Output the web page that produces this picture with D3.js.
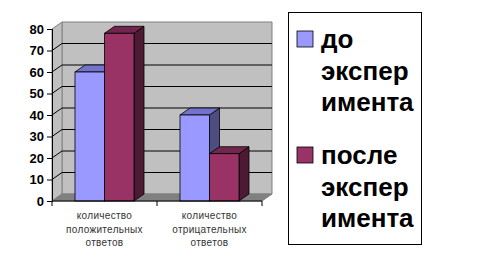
<!DOCTYPE html>
<html>
<head>
<meta charset="utf-8">
<style>
    body { margin: 0; background: #fff; }
    svg { display: block; font-family: 'Liberation Sans', Arial, sans-serif; }
</style>
</head>
<body>
<div id="chart"></div>
<script src="https://cdn.jsdelivr.net/npm/d3@7"></script>
<script>
    // data
    var categories = [
        ['количество', 'положительных', 'ответов'],
        ['количество', 'отрицательных', 'ответов']
    ];
    var series = ['до эксперимента', 'после эксперимента'];
    var legend_lines = [['до', 'экспер', 'имента'], ['после', 'экспер', 'имента']];
    var values_before = [60, 40];
    var values_after = [78, 22];
    var y_ticks = [0, 10, 20, 30, 40, 50, 60, 70, 80];

    var width = 480, height = 261;

    var fronts = ['#9999ff', '#993366'],
        tops = ['#7373cc', '#73264d'],
        sides = ['#4d4d80', '#4d1a33'];

    // 3d offset for walls and bars
    var dx = 10, dy = -7;

    var x_scale = d3.scaleBand()
        .domain(d3.range(categories.length))
        .range([52, 262])
        .padding(0);

    var y_scale = d3.scaleLinear()
        .domain([0, 80])
        .range([201, 29]);

    var bar_width = 29.5;

    var svg = d3.select('#chart').append('svg')
        .attr('width', width)
        .attr('height', height);

    var x0 = x_scale.range()[0], x1 = x_scale.range()[1],
        y0 = y_scale(0), yt = y_scale(80);

    function pts(a){ return a.map(function(p){ return p.join(','); }).join(' '); }

    // walls
    svg.append('polygon')
        .attr('points', pts([[x0 + dx, yt + dy], [x1 + dx, yt + dy], [x1 + dx, y0 + dy], [x0 + dx, y0 + dy]]))
        .attr('fill', '#c0c0c0')
        .attr('stroke', '#808080');
    svg.append('polygon')
        .attr('points', pts([[x0, yt], [x0 + dx, yt + dy], [x0 + dx, y0 + dy], [x0, y0]]))
        .attr('fill', '#c0c0c0')
        .attr('stroke', '#808080');
    svg.append('polygon')
        .attr('points', pts([[x0, y0], [x0 + dx, y0 + dy], [x1 + dx, y0 + dy], [x1, y0]]))
        .attr('fill', '#808080')
        .attr('stroke', '#808080');

    // gridlines
    var grid = y_ticks.filter(function(d){ return d > 0 && d < 80; });
    svg.selectAll('line.grid')
        .data(grid)
        .enter().append('polyline')
        .attr('points', function(d){
            return pts([[x0, y_scale(d)], [x0 + dx, y_scale(d) + dy], [x1 + dx, y_scale(d) + dy]]);
        })
        .attr('fill', 'none')
        .attr('stroke', '#000')
        .attr('stroke-width', 1);

    // bars
    var bars = [];
    categories.forEach(function(c, i){
        [values_before[i], values_after[i]].forEach(function(v, j){
            bars.push({cat: i, s: j, v: v});
        });
    });

    var g_bars = svg.append('g');
    bars.forEach(function(d){
        var c = x_scale(d.cat) + x_scale.bandwidth() / 2;
        var bx = c - bar_width + d.s * bar_width,
            bx2 = bx + bar_width,
            by = y_scale(d.v);
        var g = g_bars.append('g');
        g.append('polygon')
            .attr('points', pts([[bx2, by], [bx2 + dx, by + dy], [bx2 + dx, y0 + dy], [bx2, y0]]))
            .attr('fill', sides[d.s]).attr('stroke', '#000').attr('stroke-width', 0.8);
        g.append('polygon')
            .attr('points', pts([[bx, by], [bx + dx, by + dy], [bx2 + dx, by + dy], [bx2, by]]))
            .attr('fill', tops[d.s]).attr('stroke', '#000').attr('stroke-width', 0.8);
        g.append('rect')
            .attr('x', bx).attr('y', by)
            .attr('width', bar_width).attr('height', y0 - by)
            .attr('fill', fronts[d.s]).attr('stroke', '#000').attr('stroke-width', 0.8);
    });

    // y axis
    var y_axis = svg.append('g')
        .attr('transform', 'translate(' + x0 + ',0)')
        .call(d3.axisLeft(y_scale).tickValues(y_ticks).tickSize(5).tickPadding(3));
    y_axis.select('.domain').attr('stroke', '#000');
    y_axis.selectAll('text')
        .attr('font-family', "'Liberation Sans', Arial, sans-serif")
        .attr('font-size', 13)
        .attr('font-weight', 'bold')
        .attr('fill', '#000');

    // x axis
    var x_axis = svg.append('g')
        .attr('transform', 'translate(0,' + y0 + ')');
    x_axis.append('line')
        .attr('x1', x0).attr('x2', x1)
        .attr('stroke', '#000');
    x_axis.selectAll('line.tick')
        .data([x0, x0 + x_scale.bandwidth(), x1])
        .enter().append('line')
        .attr('x1', function(d){ return d; }).attr('x2', function(d){ return d; })
        .attr('y1', 0).attr('y2', 5)
        .attr('stroke', '#000');

    x_axis.selectAll('text.cat')
        .data(categories)
        .enter().append('text')
        .attr('x', function(d, i){ return x_scale(i) + x_scale.bandwidth() / 2; })
        .attr('y', 18)
        .attr('text-anchor', 'middle')
        .attr('font-size', 10)
        .attr('letter-spacing', 0.3)
        .attr('fill', '#333')
        .selectAll('tspan')
        .data(function(d){ return d; })
        .enter().append('tspan')
        .attr('x', function(){ return this.parentNode.getAttribute('x'); })
        .attr('dy', function(d, i){ return i ? 13.5 : 0; })
        .text(function(d){ return d; });

    // legend
    var legend = svg.append('g');
    legend.append('rect')
        .attr('x', 288.5).attr('y', 12.5)
        .attr('width', 133).attr('height', 232)
        .attr('fill', '#fff')
        .attr('stroke', '#000');

    var entry = legend.selectAll('g.entry')
        .data(series)
        .enter().append('g')
        .attr('transform', function(d, i){ return 'translate(0,' + (i * 116) + ')'; });
    entry.append('rect')
        .attr('x', 297).attr('y', 31)
        .attr('width', 16).attr('height', 16)
        .attr('fill', function(d, i){ return fronts[i]; })
        .attr('stroke', '#000')
        .attr('stroke-width', 0.8);
    entry.append('text')
        .attr('font-size', 26)
        .attr('font-weight', 'bold')
        .attr('fill', '#000')
        .selectAll('tspan')
        .data(function(d, i){ return legend_lines[i]; })
        .enter().append('tspan')
        .attr('x', 321)
        .attr('y', function(d, i){ return 48 + i * 31.5; })
        .text(function(d){ return d; });
</script>
</body>
</html>
